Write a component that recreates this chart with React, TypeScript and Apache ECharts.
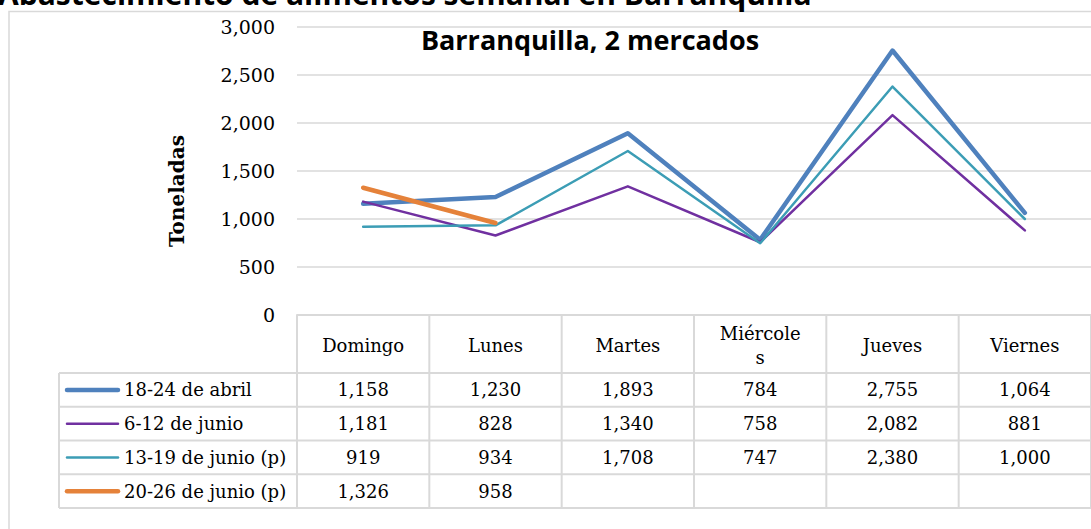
import React, { useEffect, useRef } from "react";
import * as echarts from "echarts";

const mainTitle = "Abastecimiento de alimentos semanal en Barranquilla";
const chartTitle = "Barranquilla, 2 mercados";
const yAxisName = "Toneladas";
const categories = ["Domingo", "Lunes", "Martes", "Miércoles", "Jueves", "Viernes"];
const seriesNames = ["18-24 de abril", "6-12 de junio", "13-19 de junio (p)", "20-26 de junio (p)"];
const abril18_24 = [1158, 1230, 1893, 784, 2755, 1064];
const junio6_12 = [1181, 828, 1340, 758, 2082, 881];
const junio13_19 = [919, 934, 1708, 747, 2380, 1000];
const junio20_26 = [1326, 958, null, null, null, null];
const yTicks = { min: 0, max: 3000, interval: 500 };

const seriesValues = [abril18_24, junio6_12, junio13_19, junio20_26];
const colors = ["#4F81BD", "#7030A0", "#3C9DB5", "#E5823A"];
const widths = [4.5, 2.5, 2.5, 4.5];

const W = 1091;
const H = 529;
const gridLeft = 297;
const gridTop = 27;
const gridBottomY = 315;
const gridRightX = 1091;
const headerBottom = 373;
const rowH = 33.75;
const legendLeft = 59;
const lineColor = "#D9D9D9";
const serif = "DejaVu Serif";
const sans = "Open Sans";

const fmt = (v: number) => v.toLocaleString("en-US");

export default function App() {
  const ref = useRef<HTMLDivElement>(null);
  useEffect(() => {
    if (!ref.current) return;
    const chart = echarts.init(ref.current, null, { renderer: "svg" });
    const colW = (gridRightX - gridLeft) / categories.length;
    const tableBottom = headerBottom + rowH * seriesNames.length;
    const graphics: any[] = [];

    // outer border
    graphics.push({
      type: "rect",
      shape: { x: 9, y: 11.5, width: W + 20, height: H + 20 },
      style: { fill: "none", stroke: lineColor, lineWidth: 1.5 },
      silent: true,
    });
    // vertical table lines
    for (let k = 0; k <= categories.length; k++) {
      const x = gridLeft + k * colW;
      graphics.push({
        type: "line",
        shape: { x1: x, y1: gridBottomY, x2: x, y2: tableBottom },
        style: { stroke: lineColor, lineWidth: 2 },
        silent: true,
      });
    }
    graphics.push({
      type: "line",
      shape: { x1: legendLeft, y1: headerBottom, x2: legendLeft, y2: tableBottom },
      style: { stroke: lineColor, lineWidth: 2 },
      silent: true,
    });
    // horizontal table lines
    for (let r = 0; r <= seriesNames.length; r++) {
      const y = headerBottom + r * rowH;
      graphics.push({
        type: "line",
        shape: { x1: legendLeft, y1: y, x2: gridRightX, y2: y },
        style: { stroke: lineColor, lineWidth: 2 },
        silent: true,
      });
    }
    // legend rows and values
    seriesNames.forEach((name, r) => {
      const cy = headerBottom + r * rowH + rowH / 2;
      graphics.push({
        type: "line",
        shape: { x1: 67, y1: cy, x2: 118, y2: cy },
        style: { stroke: colors[r], lineWidth: widths[r], lineCap: "round" },
        silent: true,
      });
      graphics.push({
        type: "text",
        x: 124,
        y: cy,
        style: {
          text: name,
          font: `18px "${serif}"`,
          fill: "#000",
          textAlign: "left",
          textVerticalAlign: "middle",
        },
        silent: true,
      });
      seriesValues[r].forEach((v, c) => {
        if (v === null || v === undefined) return;
        graphics.push({
          type: "text",
          x: gridLeft + c * colW + colW / 2,
          y: cy,
          style: {
            text: fmt(v as number),
            font: `18px "${serif}"`,
            fill: "#000",
            textAlign: "center",
            textVerticalAlign: "middle",
          },
          silent: true,
        });
      });
    });
    // titles
    graphics.push({
      type: "text",
      x: -2,
      y: -7,
      style: {
        text: mainTitle,
        font: `bold 30px "${sans}"`,
        fill: "#000",
        textAlign: "left",
        textVerticalAlign: "middle",
      },
      silent: true,
    });
    graphics.push({
      type: "text",
      x: 590,
      y: 39,
      style: {
        text: chartTitle,
        font: `bold 27px "${sans}"`,
        fill: "#000",
        textAlign: "center",
        textVerticalAlign: "middle",
      },
      silent: true,
    });
    graphics.push({
      type: "text",
      x: 177,
      y: 191,
      rotation: Math.PI / 2,
      style: {
        text: yAxisName,
        font: `bold 20px "${serif}"`,
        fill: "#000",
        textAlign: "center",
        textVerticalAlign: "middle",
      },
      silent: true,
    });

    chart.setOption({
      animation: false,
      backgroundColor: "#fff",
      grid: {
        left: gridLeft,
        top: gridTop,
        right: W - gridRightX,
        bottom: H - gridBottomY,
        containLabel: false,
      },
      xAxis: {
        type: "category",
        data: categories,
        boundaryGap: true,
        axisLine: { show: true, lineStyle: { color: lineColor, width: 2 } },
        axisTick: { show: false },
        splitLine: { show: false },
        axisLabel: {
          show: true,
          interval: 0,
          margin: 30,
          verticalAlign: "middle",
          lineHeight: 24,
          fontFamily: serif,
          fontSize: 18,
          color: "#000",
          formatter: (v: string) => (v === "Miércoles" ? "Miércole\ns" : v),
        },
      },
      yAxis: {
        type: "value",
        min: yTicks.min,
        max: yTicks.max,
        interval: yTicks.interval,
        axisLine: { show: false },
        axisTick: { show: false },
        axisLabel: {
          margin: 22,
          fontFamily: serif,
          fontSize: 19,
          color: "#000",
          formatter: (v: number) => fmt(v),
        },
        splitLine: { show: true, lineStyle: { color: lineColor, width: 1.5 } },
      },
      series: seriesNames.map((name, i) => ({
        name,
        type: "line",
        data: seriesValues[i],
        showSymbol: false,
        symbol: "none",
        connectNulls: false,
        lineStyle: { color: colors[i], width: widths[i], cap: "round", join: "round" },
        itemStyle: { color: colors[i] },
        z: 2 + i,
      })),
      graphic: graphics,
    });
    return () => chart.dispose();
  }, []);
  return (
    <div
      ref={ref}
      style={{ position: "absolute", left: 0, top: 0, width: W, height: H, background: "#fff" }}
    />
  );
}
